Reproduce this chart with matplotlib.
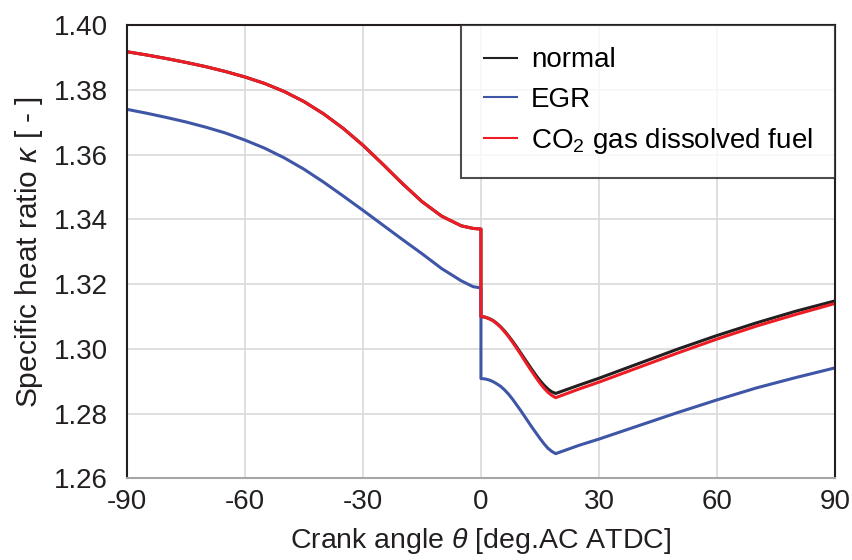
import matplotlib
matplotlib.use("Agg")
import matplotlib.pyplot as plt

plt.rcParams['font.family'] = ['Liberation Sans', 'DejaVu Sans']
plt.rcParams['mathtext.fontset'] = 'custom'
plt.rcParams['mathtext.rm'] = 'Liberation Sans'
plt.rcParams['mathtext.it'] = 'Liberation Sans:italic'
plt.rcParams['axes.unicode_minus'] = False

# crank angle before / after TDC (0 appears in both -> vertical drop)
theta_pre = [-90, -85, -80, -75, -70, -65, -60, -55, -50, -45, -40, -35,
             -30, -25, -20, -15, -10, -5, -2, 0]
theta_post = [0, 1, 2, 3, 4, 5, 6, 7, 8, 9, 10, 11, 12, 13, 14, 15, 16, 17, 18, 19,
              25, 30, 40, 50, 60, 70, 80, 90]

normal_pre = [1.3918, 1.3908, 1.3897, 1.3885, 1.3872, 1.3857, 1.3840, 1.3820,
              1.3795, 1.3764, 1.3726, 1.3681, 1.3629, 1.3571, 1.3511, 1.3455,
              1.3410, 1.3380, 1.3372, 1.3370]
normal_post = [1.3100, 1.3098, 1.3094, 1.3088, 1.3079, 1.3068, 1.3055, 1.3040,
               1.3024, 1.3007, 1.2989, 1.2971, 1.2953, 1.2935, 1.2918, 1.2902,
               1.2888, 1.2876, 1.2867, 1.2862,
               1.2888, 1.2909, 1.2954, 1.2999, 1.3041, 1.3080, 1.3116, 1.3148]

egr_pre = [1.3740, 1.3728, 1.3715, 1.3701, 1.3685, 1.3667, 1.3645, 1.3620,
           1.3590, 1.3555, 1.3515, 1.3472, 1.3428, 1.3383, 1.3338, 1.3294,
           1.3248, 1.3210, 1.3192, 1.3188]
egr_post = [1.2908, 1.2907, 1.2904, 1.2899, 1.2892, 1.2884, 1.2873, 1.2860,
            1.2845, 1.2828, 1.2811, 1.2793, 1.2775, 1.2757, 1.2740, 1.2723,
            1.2707, 1.2693, 1.2683, 1.2676,
            1.2702, 1.2721, 1.2762, 1.2803, 1.2842, 1.2879, 1.2911, 1.2941]

co2_pre = list(normal_pre)
co2_post = [1.3100, 1.3098, 1.3093, 1.3087, 1.3078, 1.3067, 1.3053, 1.3038,
            1.3021, 1.3003, 1.2985, 1.2966, 1.2947, 1.2929, 1.2911, 1.2894,
            1.2879, 1.2866, 1.2856, 1.2849,
            1.2876, 1.2897, 1.2942, 1.2987, 1.3030, 1.3070, 1.3106, 1.3140]

theta = theta_pre + theta_post
series = [
    ("normal", normal_pre + normal_post, "#231f20"),
    ("EGR", egr_pre + egr_post, "#3f55a6"),
    ("CO$_2$ gas dissolved fuel", co2_pre + co2_post, "#ee1c25"),
]

fig = plt.figure(figsize=(8.52, 5.6), dpi=100)
ax = fig.add_axes([0.149, 0.146, 0.831, 0.809])

for nombre, valores, color in series:
    ax.plot(theta, valores, color=color, lw=2.2, label=nombre)

ax.set_xlim(-90, 90)
ax.set_ylim(1.26, 1.40)
ax.set_xticks([-90, -60, -30, 0, 30, 60, 90])
ax.set_yticks([1.26, 1.28, 1.30, 1.32, 1.34, 1.36, 1.38, 1.40])
ax.set_yticklabels([f"{v:.2f}" for v in ax.get_yticks()])
ax.tick_params(length=0, labelsize=20, colors="#231f20")
ax.tick_params(axis="x", pad=8)
ax.tick_params(axis="y", pad=14)
ax.grid(color="#d9d9d9", lw=1.2)
ax.set_axisbelow(True)

for lado in ["left", "top", "right"]:
    ax.spines[lado].set_color("#231f20")
    ax.spines[lado].set_linewidth(1.5)
ax.spines["bottom"].set_color("#a6a6a6")
ax.spines["bottom"].set_linewidth(1.5)

ax.set_xlabel(r"Crank angle $\theta$ [deg.AC ATDC]", fontsize=20.5, color="#231f20", labelpad=8)
ax.set_ylabel(r"Specific heat ratio $\kappa$ [ - ]", fontsize=21.5, color="#231f20", labelpad=6)

leg = ax.legend(loc="upper right", fontsize=20, frameon=True, fancybox=False,
                borderaxespad=0, handlelength=1.2, handletextpad=0.5,
                borderpad=0.8, labelspacing=0.48)
leg.get_frame().set_edgecolor("#231f20")
leg.get_frame().set_linewidth(1.5)
for linea in leg.get_lines():
    linea.set_linewidth(1.5)

fig.savefig("out.png", dpi=100)
